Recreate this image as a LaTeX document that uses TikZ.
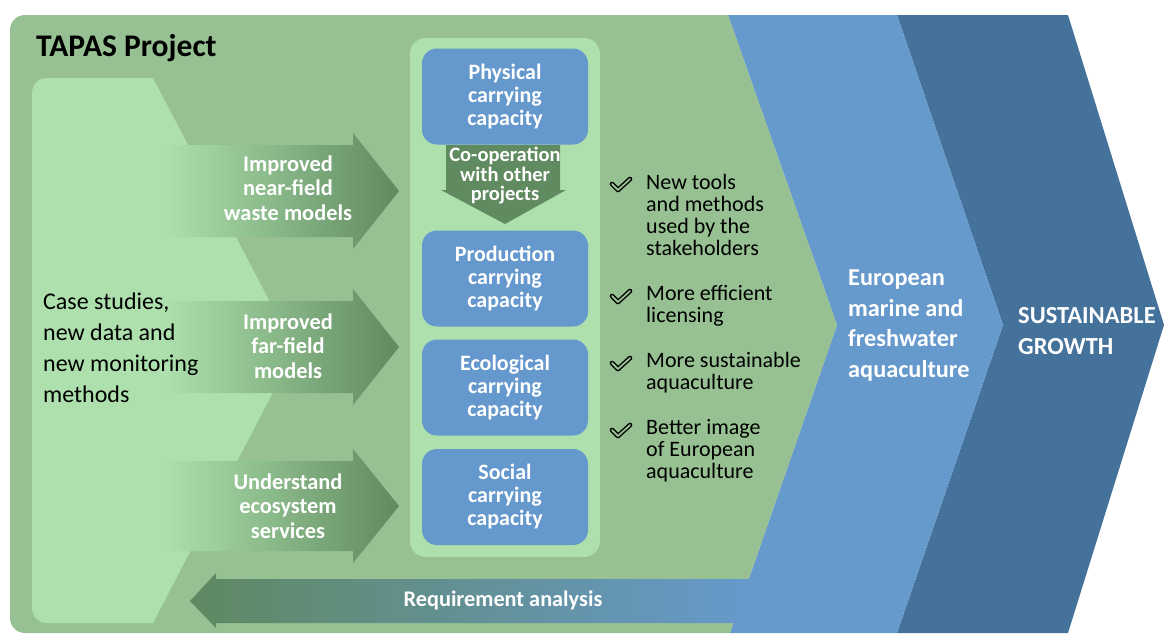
\documentclass[tikz,border=0pt]{standalone}
\usepackage{fontspec}
\setmainfont{Carlito}
\definecolor{gpanel}{RGB}{151,193,146}
\definecolor{glight}{RGB}{173,224,173}
\definecolor{boxblue}{RGB}{101,152,204}
\definecolor{blueL}{RGB}{102,153,204}
\definecolor{blueD}{RGB}{68,114,155}
\definecolor{gdark}{RGB}{96,138,96}
\definecolor{reqg}{RGB}{95,137,97}
\definecolor{reqm}{RGB}{88,136,118}
\tikzset{
  boxnode/.style={fill=boxblue, rounded corners=15pt, minimum width=166pt, minimum height=96pt,
    text=white, align=center, font=\bfseries\fontsize{22}{23}\selectfont, inner sep=0pt},
  arrtext/.style={text=white, align=center, font=\bfseries\fontsize{22.4}{24.5}\selectfont, inner sep=0pt},
  bullettext/.style={anchor=west, align=left, font=\fontsize{22}{22}\selectfont, inner sep=0pt},
  chevtext/.style={anchor=west, align=left, text=white, font=\bfseries\fontsize{24.3}{30.5}\selectfont, inner sep=0pt},
  chk/.pic={
    \draw[line width=4.6pt, line join=round, line cap=round, black] (-9,-1) -- (-3,5) -- (9,-6);
    \draw[line width=1.8pt, line join=round, line cap=round, gpanel] (-9,-1) -- (-3,5) -- (9,-6);
  }
}
\begin{document}
\begin{tikzpicture}[x=1pt,y=-1pt]
\useasboundingbox (0,0) rectangle (1164,635);
\fill[white] (0,0) rectangle (1164,635);
% chevrons
\fill[blueD] (897,15) -- (1068,15) -- (1164,325) -- (1068,633) -- (897,633) -- (1003,325) -- cycle;
\fill[blueL] (728,15) -- (897,15) -- (1003,325) -- (897,633) -- (730,633) -- (837,325) -- cycle;
% green panel
\fill[gpanel, rounded corners=15pt] (300,15) -- (10,15) -- (10,633) -- (300,633) [sharp corners] -- (730,633) -- (837,325) -- (728,15) -- cycle;
% light green left shape
\fill[glight, rounded corners=15pt] (100,78) -- (32,78) -- (32,623) -- (100,623) [sharp corners] -- (153,623) -- (295,350) -- (153,78) -- cycle;
% middle light panel
\fill[glight, rounded corners=16pt] (410,38) rectangle (600,557);
% gradient arrows
\shade[left color=glight, right color=gdark] (165,145) -- (353,145) -- (353,133) -- (399,191) -- (353,249) -- (353,237) -- (165,237) -- cycle;
\shade[left color=glight, right color=gdark] (165,301) -- (353,301) -- (353,289) -- (399,347) -- (353,405) -- (353,393) -- (165,393) -- cycle;
\shade[left color=glight, right color=gdark] (165,461) -- (353,461) -- (353,449) -- (399,506) -- (353,563) -- (353,551) -- (165,551) -- cycle;
% requirement arrow
\shade[left color=reqg, middle color=reqm, right color=blueL] (190,601) -- (216,573) -- (216,579) -- (752,579) -- (752,623) -- (216,623) -- (216,628) -- cycle;
% co-operation arrow
\fill[gdark] (446,145) -- (560,145) -- (560,190) -- (566,190) -- (505,224) -- (441,190) -- (446,190) -- cycle;
% texts
\node[anchor=west, inner sep=0pt, font=\bfseries\fontsize{31.5}{36}\selectfont] (title) at (36,48) {TAPAS Project};
\node[anchor=west, align=left, inner sep=0pt, font=\fontsize{24}{31}\selectfont] (cases) at (43,348) {Case studies,\\new data and\\new monitoring\\methods};
\node[arrtext] (a1t) at (288,188) {Improved\\near-field\\waste models};
\node[arrtext] (a2t) at (288,346) {Improved\\far-field\\models};
\node[arrtext] (a3t) at (288,506) {Understand\\ecosystem\\services};
\node[boxnode] (phys) at (505,96.5) {Physical\\carrying\\capacity};
\node[boxnode] (prod) at (505,278.5) {Production\\carrying\\capacity};
\node[boxnode] (eco) at (505,387.5) {Ecological\\carrying\\capacity};
\node[boxnode] (soc) at (505,497) {Social\\carrying\\capacity};
\node[text=white, align=center, inner sep=0pt, font=\bfseries\fontsize{20.5}{19.5}\selectfont] (coopt) at (505,176) {Co-operation\\with other\\projects};
\pic at (621,185) {chk};
\pic at (621,297) {chk};
\pic at (621,364) {chk};
\pic at (621,431) {chk};
\node[bullettext] (b1) at (646,215) {New tools\\and methods\\used by the\\stakeholders};
\node[bullettext] (b2) at (646,306) {More efficient\\licensing};
\node[bullettext] (b3) at (646,373) {More sustainable\\aquaculture};
\node[bullettext] (b4) at (646,451) {Better image\\of European\\aquaculture};
\node[chevtext] (euro) at (848,325.5) {European\\marine and\\freshwater\\aquaculture};
\node[chevtext, font=\bfseries\fontsize{24.5}{31}\selectfont] (growth) at (1018,331.5) {SUSTAINABLE\\GROWTH};
\node[text=white, inner sep=0pt, font=\bfseries\fontsize{22.3}{23}\selectfont] (req) at (503,600) {Requirement analysis};
\end{tikzpicture}
\end{document}
